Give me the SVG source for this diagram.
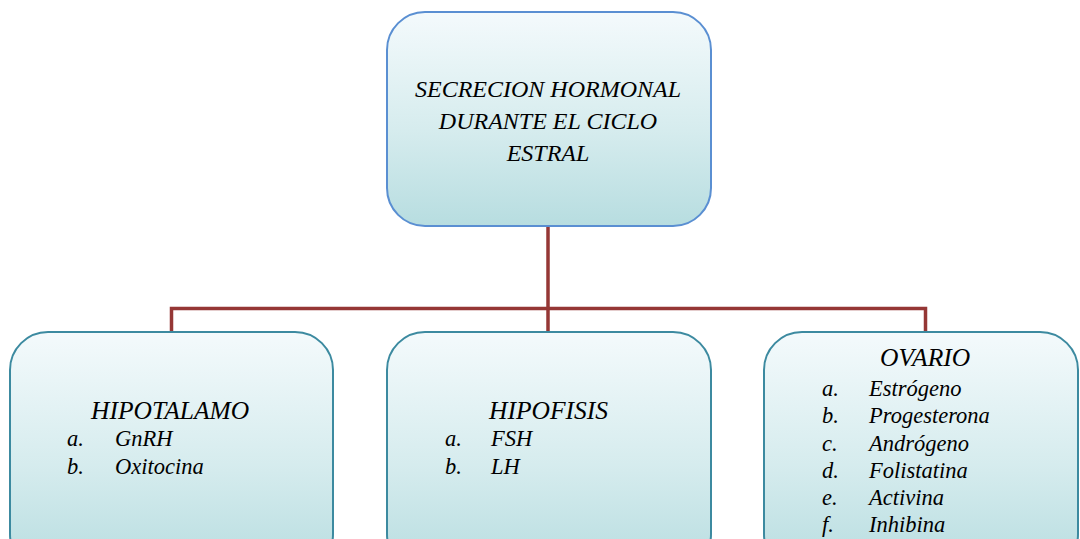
<svg xmlns="http://www.w3.org/2000/svg" width="1080" height="539" viewBox="0 0 1080 539" font-family="Liberation Serif" font-style="italic">
  <style>
    .root { fill: url(#boxFill); stroke: #5a8fd2; stroke-width: 2; }
    .leaf { fill: url(#boxFill); stroke: #3c8aa0; stroke-width: 2; }
    .link { fill: none; stroke: #953735; stroke-width: 3.5; }
  </style>
  <linearGradient id="boxFill" x1="0" y1="0" x2="0" y2="1">
    <stop offset="0" stop-color="#f4fafc"/>
    <stop offset="0.55" stop-color="#d6ecee"/>
    <stop offset="1" stop-color="#b7dde0"/>
  </linearGradient>

  <!-- tree connectors -->
  <g id="connectors">
    <polyline class="link" points="548,226 548,308.5"/>
    <polyline class="link" points="171.5,332 171.5,308.5 925.5,308.5 925.5,332"/>
    <polyline class="link" points="548,308.5 548,332"/>
  </g>

  <g id="node-root">
    <rect class="root" x="387" y="12" width="324" height="214" rx="38" ry="38"/>
    <text x="548" y="97" style="font-family:'Liberation Serif',serif;font-style:italic;font-size:24px" text-anchor="middle">SECRECION HORMONAL</text>
    <text x="548" y="129" style="font-family:'Liberation Serif',serif;font-style:italic;font-size:24px" text-anchor="middle">DURANTE EL CICLO</text>
    <text x="548" y="161" style="font-family:'Liberation Serif',serif;font-style:italic;font-size:24px" text-anchor="middle">ESTRAL</text>
  </g>

  <g id="node-hipotalamo">
    <rect class="leaf" x="10" y="332" width="323" height="240" rx="38" ry="38"/>
    <text x="91" y="419" style="font-family:'Liberation Serif',serif;font-style:italic;font-size:25.5px">HIPOTALAMO</text>
    <text x="67" y="446" style="font-family:'Liberation Serif',serif;font-style:italic;font-size:22.5px">a.</text>
    <text x="115" y="446" style="font-family:'Liberation Serif',serif;font-style:italic;font-size:22.5px">GnRH</text>
    <text x="67" y="474" style="font-family:'Liberation Serif',serif;font-style:italic;font-size:22.5px">b.</text>
    <text x="115" y="474" style="font-family:'Liberation Serif',serif;font-style:italic;font-size:22.5px">Oxitocina</text>
  </g>

  <g id="node-hipofisis">
    <rect class="leaf" x="387" y="332" width="324" height="240" rx="38" ry="38"/>
    <text x="489" y="419" style="font-family:'Liberation Serif',serif;font-style:italic;font-size:25.5px">HIPOFISIS</text>
    <text x="445" y="446" style="font-family:'Liberation Serif',serif;font-style:italic;font-size:22.5px">a.</text>
    <text x="491" y="446" style="font-family:'Liberation Serif',serif;font-style:italic;font-size:22.5px">FSH</text>
    <text x="445" y="474" style="font-family:'Liberation Serif',serif;font-style:italic;font-size:22.5px">b.</text>
    <text x="491" y="474" style="font-family:'Liberation Serif',serif;font-style:italic;font-size:22.5px">LH</text>
  </g>

  <g id="node-ovario">
    <rect class="leaf" x="764" y="332" width="314" height="240" rx="38" ry="38"/>
    <text x="880" y="366" style="font-family:'Liberation Serif',serif;font-style:italic;font-size:25.5px">OVARIO</text>
    <text x="822" y="396" style="font-family:'Liberation Serif',serif;font-style:italic;font-size:22.5px">a.</text>
    <text x="869" y="396" style="font-family:'Liberation Serif',serif;font-style:italic;font-size:22.5px">Estrógeno</text>
    <text x="822" y="423" style="font-family:'Liberation Serif',serif;font-style:italic;font-size:22.5px">b.</text>
    <text x="869" y="423" style="font-family:'Liberation Serif',serif;font-style:italic;font-size:22.5px">Progesterona</text>
    <text x="822" y="451" style="font-family:'Liberation Serif',serif;font-style:italic;font-size:22.5px">c.</text>
    <text x="869" y="451" style="font-family:'Liberation Serif',serif;font-style:italic;font-size:22.5px">Andrógeno</text>
    <text x="822" y="478" style="font-family:'Liberation Serif',serif;font-style:italic;font-size:22.5px">d.</text>
    <text x="869" y="478" style="font-family:'Liberation Serif',serif;font-style:italic;font-size:22.5px">Folistatina</text>
    <text x="822" y="505" style="font-family:'Liberation Serif',serif;font-style:italic;font-size:22.5px">e.</text>
    <text x="869" y="505" style="font-family:'Liberation Serif',serif;font-style:italic;font-size:22.5px">Activina</text>
    <text x="822" y="532" style="font-family:'Liberation Serif',serif;font-style:italic;font-size:22.5px">f.</text>
    <text x="869" y="532" style="font-family:'Liberation Serif',serif;font-style:italic;font-size:22.5px">Inhibina</text>
  </g>
</svg>
